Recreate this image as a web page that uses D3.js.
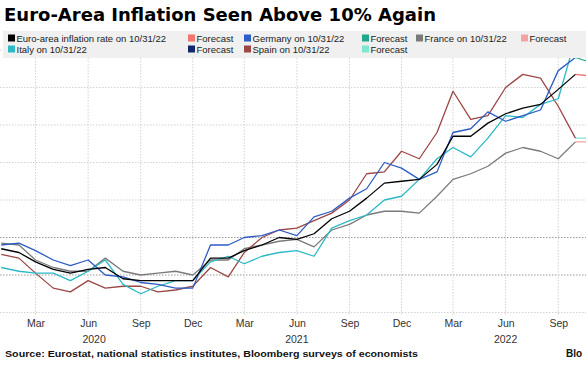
<!DOCTYPE html>
<html><head><meta charset="utf-8">
<script src="https://cdn.jsdelivr.net/npm/d3@7"></script>
<style>html,body{margin:0;padding:0;background:#fff;overflow:hidden}</style>
</head><body>
<svg id="c" width="586" height="368"></svg>
<script>
// ---------- DATA ----------
const startMonth = [2020, 0];               // Jan 2020
const euroArea = [1.4,1.2,0.7,0.3,0.1,0.3,0.4,-0.2,-0.3,-0.3,-0.3,-0.3, 0.9,0.9,1.3,1.6,2.0,1.9,2.2,3.0,3.4,4.1,4.9,5.0, 5.1,5.9,7.4,7.4,8.1,8.6,8.9,9.1,9.9,10.7];
const germany  = [1.6,1.7,1.3,0.8,0.5,0.8,0.0,-0.1,-0.4,-0.5,-0.7,-0.7, 1.6,1.6,2.0,2.1,2.4,2.1,3.1,3.4,4.1,4.6,6.0,5.7, 5.1,5.5,7.6,7.8,8.7,8.2,8.5,8.8,10.9,11.6];
const france   = [1.7,1.6,0.8,0.4,0.2,0.2,0.9,0.2,0.0,0.1,0.2,0.0, 0.8,0.8,1.4,1.6,1.8,1.9,1.5,2.4,2.7,3.2,3.4,3.4, 3.3,4.2,5.1,5.4,5.8,6.5,6.8,6.6,6.2,7.1];
const italy    = [0.4,0.2,0.1,0.1,-0.3,0.2,0.8,-0.5,-1.0,-0.6,-0.3,-0.3, 0.7,1.0,0.6,1.0,1.2,1.3,1.0,2.5,2.9,3.2,4.0,4.2, 5.1,6.2,6.8,6.3,7.3,8.5,8.4,9.1,9.4,12.6];
const spain    = [1.1,0.9,0.1,-0.7,-0.9,-0.3,-0.7,-0.6,-0.6,-0.9,-0.8,-0.6, 0.4,-0.1,1.2,2.0,2.4,2.5,2.9,3.3,4.0,5.4,5.5,6.6, 6.2,7.6,9.8,8.3,8.5,10.0,10.7,10.5,9.0,7.3];
// forecasts start at Oct 2022 (month index 33)
const forecastStart = 33;
const euroAreaFc = [10.7,10.6,10.2];
const germanyFc  = [11.6,11.3,11.0];
const franceFc   = [7.1,7.1,7.0];
const italyFc    = [12.6,12.2,11.8];
const spainFc    = [7.3,7.3,7.0];

const yTicks = [-2,0,2,4,6,8,10,12];
const monthNames = ["Jan","Feb","Mar","Apr","May","Jun","Jul","Aug","Sep","Oct","Nov","Dec"];
const yearLabels = ["2020","2021","2022"];

const legendLabels = ["Euro-area inflation rate on 10/31/22","Forecast","Germany on 10/31/22","Forecast","France on 10/31/22","Forecast",
                      "Italy on 10/31/22","Forecast","Spain on 10/31/22","Forecast"];

// ---------- STYLE ----------
const C = {euro:"#000000", euroFc:"#f07470", ger:"#2c5cc5", gerFc:"#1fa88c", fra:"#7a7a7a", fraFc:"#f2a3a3",
           ita:"#2bb9c6", itaFc:"#10296e", spa:"#9c4646", spaFc:"#7fe6d2"};
const legendColors = [C.euro,C.euroFc,C.ger,C.gerFc,C.fra,C.fraFc,C.ita,C.itaFc,C.spa,C.spaFc];
const legendCols = [8,188,244,362,416,521, 8,188,244,362];
const legendRows = [38,38,38,38,38,38, 49,49,49,49];

const svg = d3.select("#c");
const month = i => new Date(startMonth[0], startMonth[1] + i, 1);

const x = d3.scaleTime().domain([month(0), month(33)]).range([1.2, 575.4]);
const y = d3.scaleLinear().domain([-2, 10]).range([312.5, 87.5]);

// horizontal grid
svg.append("g").selectAll("line").data(yTicks).join("line")
  .attr("x1",0).attr("x2",586)
  .attr("y1",d=>y(d)).attr("y2",d=>y(d))
  .attr("stroke",d=> (d===0||d===2) ? "#9a9a9a" : "#d2d2d2")
  .attr("stroke-width",1)
  .attr("stroke-dasharray","1.5,1.5");

// vertical grid + x axis labels (Mar / Jun / Sep / Dec)
const tickDates = d3.timeMonth.range(month(0), month(36))
  .filter(d => d.getMonth() % 3 === 2 && x(d) < 586);
svg.append("g").selectAll("line").data(tickDates).join("line")
  .attr("x1",d=>x(d)).attr("x2",d=>x(d))
  .attr("y1",58).attr("y2",316)
  .attr("stroke","#d2d2d2").attr("stroke-dasharray","1.5,1.5");

const xAxis = d3.axisBottom(x).tickValues(tickDates).tickSize(0).tickPadding(0)
  .tickFormat(d => monthNames[d.getMonth()]);
const gx = svg.append("g").attr("transform","translate(0,320)").call(xAxis);
gx.select(".domain").remove();
gx.selectAll("text").attr("font-family","Liberation Sans, Arial, sans-serif").attr("font-size",10.5).attr("fill","#333").attr("dy","0.7em");

// year labels under Jun
const yearOffsets = [6,0,0];
svg.append("g").selectAll("text").data(yearLabels).join("text")
  .attr("x",(d,i)=> x(new Date(+d,5,1)) + yearOffsets[i])
  .attr("y",343).attr("text-anchor","middle")
  .attr("font-family","Liberation Sans, Arial, sans-serif").attr("font-size",10.5).attr("fill","#333")
  .text(d=>d);

// lines
const line = d3.line().x(d=>x(d[0])).y(d=>y(d[1]));
function series(vals, color, offset=0){
  svg.append("path").datum(vals.map((v,i)=>[month(i+offset), v]))
    .attr("d", line).attr("fill","none").attr("stroke",color)
    .attr("stroke-width",1.3).attr("stroke-linejoin","round");
}
series(franceFc, C.fraFc, forecastStart);
series(spainFc, C.spaFc, forecastStart);
series(italyFc, C.itaFc, forecastStart);
series(germanyFc, C.gerFc, forecastStart);
series(euroAreaFc, C.euroFc, forecastStart);
series(france, C.fra);
series(spain, C.spa);
series(italy, C.ita);
series(germany, C.ger);
series(euroArea, C.euro);

// legend background
svg.append("rect").attr("x",3).attr("y",31).attr("width",583).attr("height",27).attr("fill","#f0f0f0");
const lg = svg.append("g").selectAll("g").data(legendLabels).join("g")
  .attr("transform",(d,i)=>`translate(${legendCols[i]},${legendRows[i]})`);
lg.append("rect").attr("x",0).attr("y",-3.5).attr("width",7).attr("height",7).attr("fill",(d,i)=>legendColors[i]);
lg.append("text").attr("x",8.5).attr("y",3.5)
  .attr("font-family","Liberation Sans, Arial, sans-serif").attr("font-size",9.5).attr("fill","#222")
  .text(d=>d);

// title
svg.append("text").attr("x",4).attr("y",21)
  .attr("font-family","DejaVu Sans, sans-serif").attr("font-weight","bold").attr("font-size",18.5)
  .attr("fill","#000").attr("textLength",432).attr("lengthAdjust","spacingAndGlyphs")
  .text("Euro-Area Inflation Seen Above 10% Again");

// source
svg.append("text").attr("x",5).attr("y",357)
  .attr("font-family","Liberation Sans, Arial, sans-serif").attr("font-weight","bold").attr("font-size",9)
  .attr("fill","#111").attr("textLength",413).attr("lengthAdjust","spacingAndGlyphs")
  .text("Source: Eurostat, national statistics institutes, Bloomberg surveys of economists");
svg.append("text").attr("x",566).attr("y",357)
  .attr("font-family","Liberation Sans, Arial, sans-serif").attr("font-weight","bold").attr("font-size",10)
  .attr("fill","#111").text("Blo");
</script>
</body></html>
